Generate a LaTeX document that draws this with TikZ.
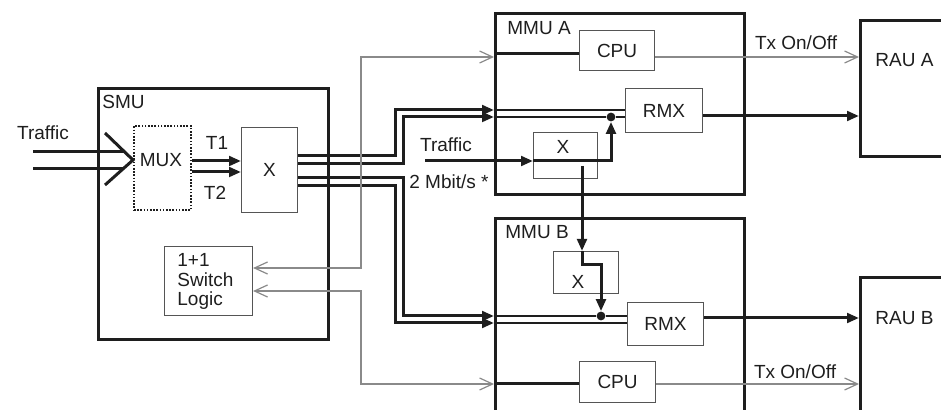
\documentclass[tikz,border=0pt]{standalone}
\usepackage{fontspec}
\setmainfont{Liberation Sans}
\usetikzlibrary{arrows.meta}
\definecolor{ink}{HTML}{1E1E1E}
\definecolor{boxedge}{HTML}{555555}
\definecolor{ctlgray}{HTML}{8A8A8A}

\begin{document}
\begin{tikzpicture}[x=0.5pt, y=-0.5pt,
  font=\fontsize{9.5}{9.6}\selectfont, text=ink,
  box/.style 2 args={minimum width=#1*0.5pt, minimum height=#2*0.5pt},
  unit/.style={draw=ink, line width=1.7pt, anchor=north west, inner sep=0pt},
  blk/.style={draw=boxedge, line width=0.55pt, anchor=north west, inner sep=0pt},
  muxbox/.style={draw=ink, line width=1pt, dash pattern=on 0.8pt off 0.8pt, anchor=north west, inner sep=0pt},
  lbl/.style={inner sep=0pt},
  thk/.style={draw=ink, line width=1.5pt},
  sig/.style={thk, -{Triangle[length=6pt,width=4.8pt]}},
  wire/.style={draw=ink, line width=0.9pt},
  ctl/.style={draw=ctlgray, line width=0.6pt, -{Straight Barb[length=6.5pt,width=6pt]}},
  ctl2/.style={ctl, {Straight Barb[length=6.5pt,width=6pt]}-{Straight Barb[length=6.5pt,width=6pt]}},
  dot/.style={circle, fill=ink, inner sep=0pt, minimum size=4.4pt},
]
\useasboundingbox (0,0) rectangle (941,410);
\clip (0,0) rectangle (941,410);

% SMU
\node[unit, box={230}{251}] (smu) at (97,87) {};
\node[lbl, anchor=west] (smulbl) at (102,102) {SMU};
\node[muxbox, box={57}{84}] (mux) at (133,125) {};
\node[lbl] (muxlbl) at (161,160) {MUX};
\node[blk, box={56}{85}] (xs) at (241,127) {X};
\node[blk, box={88}{69}] (swl) at (164,246) {};
\node[lbl, anchor=north west, align=left] (swllbl) at (177,253.5) {1+1\\Switch\\Logic};
\node[lbl] (trin) at (43,133) {Traffic};
\node[lbl] (t1) at (217,143) {T1};
\node[lbl] (t2) at (215,193) {T2};

% MMU A
\node[unit, box={249}{181}] (mmua) at (494,12) {};
\node[lbl, anchor=west] (mmualbl) at (507,28) {MMU A};
\node[blk, box={75}{40}] (cpua) at (579,30) {CPU};
\node[blk, box={77}{44}] (rmxa) at (625,88) {RMX};
\node[blk, box={64}{46}] (xa) at (533,132) {};
\node[lbl] (xalbl) at (563,147) {X};
\node[dot] (dota) at (611,117) {};

% MMU B
\node[unit, box={249}{230}] (mmub) at (494,217) {};
\node[lbl, anchor=west] (mmublbl) at (505,232) {MMU B};
\node[blk, box={65}{42}] (xb) at (553,251) {};
\node[lbl] (xblbl) at (578,282) {X};
\node[blk, box={76}{43}] (rmxb) at (627,302) {RMX};
\node[blk, box={76}{41}] (cpub) at (579,361) {CPU};
\node[dot] (dotb) at (601,316) {};

% RAUs (cut off at the right)
\node[unit, box={120}{136}] (raua) at (859,19) {};
\node[lbl, anchor=west] (raualbl) at (875,60) {RAU A};
\node[unit, box={120}{180}] (raub) at (859,276) {};
\node[lbl, anchor=west] (raublbl) at (875,318) {RAU B};

\node[lbl] (trmmu) at (446,145) {Traffic};
\node[lbl] (rate) at (449,182) {2 Mbit/s *};
\node[lbl] (txa) at (796,43) {Tx On/Off};
\node[lbl] (txb) at (795,372) {Tx On/Off};

% traffic in, MUX to X
\coordinate (tin1) at (33,152);
\coordinate (tin2) at (33,169);
\draw[thk] (105,133) -- (mux.west |- 0,160) -- (105,185);
\draw[thk] (tin1) -- (124,152);
\draw[thk] (tin2) -- (123,169);
\draw[sig] (mux.east |- 0,161) -- (xs.west |- 0,161);
\draw[sig] (mux.east |- 0,172) -- (xs.west |- 0,172);

% X to both MMUs
\draw[sig] (xs.east |- 0,156) -- (395,156) |- (mmua.west |- 0,110);
\draw[sig] (xs.east |- 0,164) -- (403,164) |- (mmua.west |- 0,117);
\draw[sig] (xs.east |- 0,178) -- (403,178) |- (mmub.west |- 0,316);
\draw[sig] (xs.east |- 0,186) -- (395,186) |- (mmub.west |- 0,323);
\draw[wire] (mmua.west |- 0,110) -- (rmxa.west |- 0,110);
\draw[wire] (mmua.west |- 0,117) -- (dota) -- (rmxa.west |- 0,117);
\draw[wire] (mmub.west |- 0,316) -- (dotb) -- (rmxb.west |- 0,316);
\draw[wire] (mmub.west |- 0,323) -- (rmxb.west |- 0,323);
\draw[sig] (rmxa.east |- 0,116) -- (raua.west |- 0,116);
\draw[sig] (rmxb.east |- 0,318) -- (raub.west |- 0,318);

% 2 Mbit/s path
\coordinate (trsrc) at (425,161);
\coordinate (xaout) at (582,166);
\draw[sig] (trsrc) -- (xa.west |- trsrc);
\draw[sig] (xa.west |- trsrc) -| (dota.south);
\draw[sig] (xaout) -- (xaout |- xb.north);
\draw[sig] (xaout |- xb.north) |- (601,265) -- (dotb.north);

% control
\draw[thk] (mmua.west |- 0,54) -- (cpua.west |- 0,54);
\draw[ctl2] (swl.east |- 0,268) -| (361,57) -- (mmua.west |- 0,57);
\draw[ctl] (cpua.east |- 0,57) -- (raua.west |- 0,57);
\draw[thk] (mmub.west |- 0,384) -- (cpub.west |- 0,384);
\draw[ctl2] (swl.east |- 0,291) -| (361,384) -- (mmub.west |- 0,384);
\draw[ctl] (cpub.east |- 0,384) -- (raub.west |- 0,384);
\end{tikzpicture}
\end{document}
